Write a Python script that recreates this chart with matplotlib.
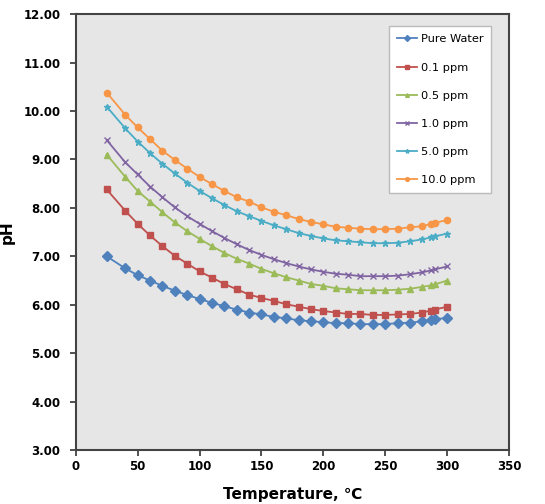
"""pH of water vs temperature for several concentrations"""

import matplotlib
matplotlib.use("Agg")
import matplotlib.pyplot as plt

TEMPS = [25, 40, 50, 60, 70, 80, 90, 100, 110, 120, 130, 140, 150, 160, 170,
         180, 190, 200, 210, 220, 230, 240, 250, 260, 270, 280, 287, 290, 300]

PURE_WATER = [7.00, 6.75, 6.61, 6.50, 6.39, 6.29, 6.20, 6.12, 6.04, 5.97, 5.90,
              5.84, 5.80, 5.75, 5.72, 5.68, 5.66, 5.64, 5.62, 5.62, 5.60, 5.60,
              5.60, 5.62, 5.63, 5.66, 5.68, 5.70, 5.73]
PPM_01 = [8.38, 7.94, 7.67, 7.43, 7.21, 7.01, 6.85, 6.69, 6.56, 6.43, 6.32,
          6.21, 6.14, 6.08, 6.01, 5.96, 5.91, 5.87, 5.84, 5.81, 5.81, 5.79,
          5.79, 5.80, 5.81, 5.84, 5.88, 5.90, 5.96]
PPM_05 = [9.10, 8.64, 8.35, 8.13, 7.91, 7.70, 7.52, 7.36, 7.21, 7.07, 6.95,
          6.85, 6.74, 6.65, 6.57, 6.50, 6.43, 6.39, 6.34, 6.32, 6.30, 6.30,
          6.30, 6.31, 6.33, 6.37, 6.40, 6.42, 6.50]
PPM_10 = [9.40, 8.94, 8.69, 8.44, 8.22, 8.01, 7.83, 7.67, 7.52, 7.38, 7.25,
          7.13, 7.03, 6.94, 6.86, 6.79, 6.73, 6.68, 6.64, 6.62, 6.59, 6.59,
          6.59, 6.60, 6.63, 6.67, 6.71, 6.73, 6.79]
PPM_50 = [10.09, 9.64, 9.37, 9.13, 8.91, 8.71, 8.52, 8.35, 8.20, 8.06, 7.93,
          7.83, 7.73, 7.64, 7.56, 7.48, 7.42, 7.37, 7.33, 7.31, 7.29, 7.27,
          7.27, 7.28, 7.31, 7.35, 7.39, 7.41, 7.47]
PPM_100 = [10.38, 9.92, 9.66, 9.42, 9.18, 8.99, 8.81, 8.64, 8.49, 8.35, 8.22,
           8.13, 8.01, 7.92, 7.85, 7.77, 7.71, 7.66, 7.61, 7.59, 7.57, 7.56,
           7.56, 7.57, 7.60, 7.62, 7.67, 7.69, 7.75]

SERIES = [
    ("Pure Water", PURE_WATER, "#4F81BD", "D", 5),
    ("0.1 ppm", PPM_01, "#C0504D", "s", 4.5),
    ("0.5 ppm", PPM_05, "#9BBB59", "^", 4.5),
    ("1.0 ppm", PPM_10, "#8064A2", "x", 5),
    ("5.0 ppm", PPM_50, "#4BACC6", "*", 5),
    ("10.0 ppm", PPM_100, "#F79646", "o", 4.5),
]

fig = plt.figure(figsize=(5.45, 5.04), dpi=100)
ax = fig.add_axes([0.139, 0.107, 0.795, 0.865])
ax.set_facecolor("#e6e6e6")

for name, vals, color, marker, ms in SERIES:
    ax.plot(TEMPS, vals, color=color, marker=marker, markersize=ms,
            linewidth=1.3, label=name, markeredgewidth=1.0)

ax.set_xlim(0, 350)
ax.set_ylim(3, 12)
ax.set_xticks(range(0, 351, 50))
ax.set_yticks(range(3, 13))
ax.set_yticklabels([f"{v:.2f}" for v in range(3, 13)])
for lab in ax.get_xticklabels() + ax.get_yticklabels():
    lab.set_fontweight("bold")
    lab.set_fontsize(8.5)
ax.tick_params(direction="out", length=4, width=1.2, color="#333333")
ax.tick_params(axis="y", pad=7)
for s in ax.spines.values():
    s.set_linewidth(1.5)
    s.set_color("#444444")

ax.set_xlabel("Temperature, ℃", fontsize=11, fontweight="bold", labelpad=10)
ax.set_ylabel("pH", fontsize=11, fontweight="bold", labelpad=6)

leg = ax.legend(loc="upper right", bbox_to_anchor=(0.972, 0.985), fontsize=8.2,
                frameon=True, fancybox=False, labelspacing=1.6,
                handlelength=1.8, handletextpad=0.3, borderpad=0.7,
                markerscale=0.6)
leg.get_frame().set_edgecolor("#bbbbbb")
leg.get_frame().set_facecolor("white")
leg.get_frame().set_alpha(1)

fig.savefig("out.png", dpi=100)
